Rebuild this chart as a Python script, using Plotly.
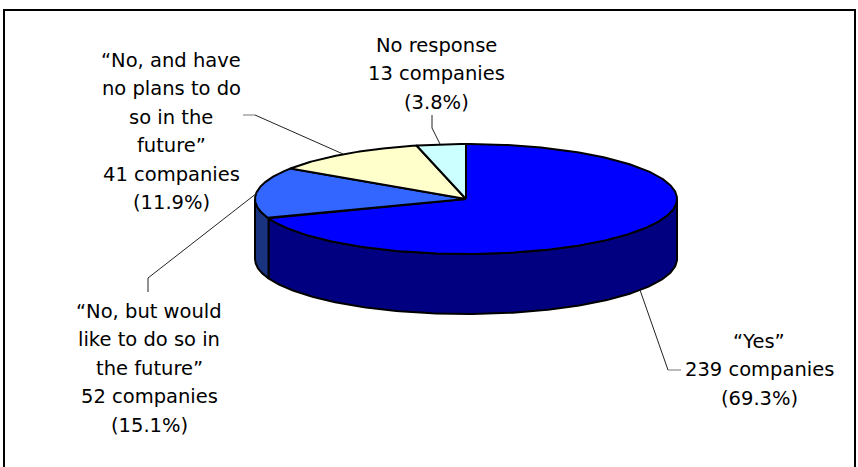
import numpy as np
import plotly.graph_objects as go

categories = ["Yes", "No, but would like to do so in the future",
              "No, and have no plans to do so in the future", "No response"]
values = [239, 52, 41, 13]
top_colors = ["#0000FF", "#3366FF", "#FFFFCC", "#CCFFFF"]
side_colors = ["#000080", "#1A3380", "#808066", "#668080"]

label_lines = [
    ["“Yes”", "239 companies", "(69.3%)"],
    ["“No, but would", "like to do so in", "the future”", "52 companies", "(15.1%)"],
    ["“No, and have", "no plans to do", "so in the", "future”", "41 companies", "(11.9%)"],
    ["No response", "13 companies", "(3.8%)"],
]
label_center_x = [759, 149, 171, 436]
label_first_y = [341, 311, 60, 45]
line_step = 28.5

leaders = [
    ([640, 668], [290, 370]),
    ([257, 148, 148], [193, 278, 292]),
    ([255, 343], [115, 154]),
    ([432, 432, 440], [115, 128, 144]),
]
leader_stubs = [
    ([668, 681], [370, 370]),
    ([243, 255], [115, 115]),
]

CX, CY, RX, RY, DEPTH = 466, 199, 211, 55, 60

total = sum(values)
edges = np.concatenate([[0], np.cumsum(values)]) / total * 2 * np.pi


def px(t):
    return CX + RX * np.sin(t)


def py(t):
    return CY - RY * np.cos(t)


fig = go.Figure()

for i in range(len(values)):
    a = max(edges[i], np.pi / 2)
    b = min(edges[i + 1], 3 * np.pi / 2)
    if b <= a:
        continue
    t = np.linspace(a, b, 160)
    xs = np.concatenate([px(t), px(t[::-1])])
    ys = np.concatenate([py(t), py(t[::-1]) + DEPTH])
    fig.add_trace(go.Scatter(x=np.append(xs, xs[0]), y=np.append(ys, ys[0]), mode="lines",
                             fill="toself", fillcolor=side_colors[i],
                             line=dict(color="#000000", width=2), hoverinfo="skip"))

for i in range(len(values)):
    t = np.linspace(edges[i], edges[i + 1], 240)
    xs = np.concatenate([[CX], px(t), [CX]])
    ys = np.concatenate([[CY], py(t), [CY]])
    fig.add_trace(go.Scatter(x=xs, y=ys, mode="lines", fill="toself",
                             fillcolor=top_colors[i],
                             line=dict(color="#000000", width=2), hoverinfo="skip",
                             name=categories[i]))

for lx, ly in leaders:
    fig.add_trace(go.Scatter(x=lx, y=ly, mode="lines",
                             line=dict(color="#222222", width=1), hoverinfo="skip"))
for lx, ly in leader_stubs:
    fig.add_trace(go.Scatter(x=lx, y=ly, mode="lines",
                             line=dict(color="#777777", width=1), hoverinfo="skip"))

annotations = []
for lines, cx, y0 in zip(label_lines, label_center_x, label_first_y):
    for k, s in enumerate(lines):
        annotations.append(dict(x=cx, y=y0 + k * line_step, text=s, showarrow=False,
                                xref="x", yref="y", xanchor="center", yanchor="middle",
                                font=dict(family="DejaVu Sans", size=19.5, color="#000000")))

fig.update_layout(
    width=858, height=467, margin=dict(l=0, r=0, t=0, b=0),
    paper_bgcolor="#FFFFFF", plot_bgcolor="#FFFFFF", showlegend=False,
    xaxis=dict(range=[0, 858], visible=False, fixedrange=True),
    yaxis=dict(range=[467, 0], visible=False, fixedrange=True),
    annotations=annotations,
    shapes=[dict(type="rect", xref="x", yref="y", x0=4, x1=855, y0=10, y1=480,
                 line=dict(color="#000000", width=2), layer="below")],
)
fig.write_html("out.html", config=dict(displayModeBar=False),
               post_script="document.body.style.margin='0';document.documentElement.style.overflow='hidden';")
